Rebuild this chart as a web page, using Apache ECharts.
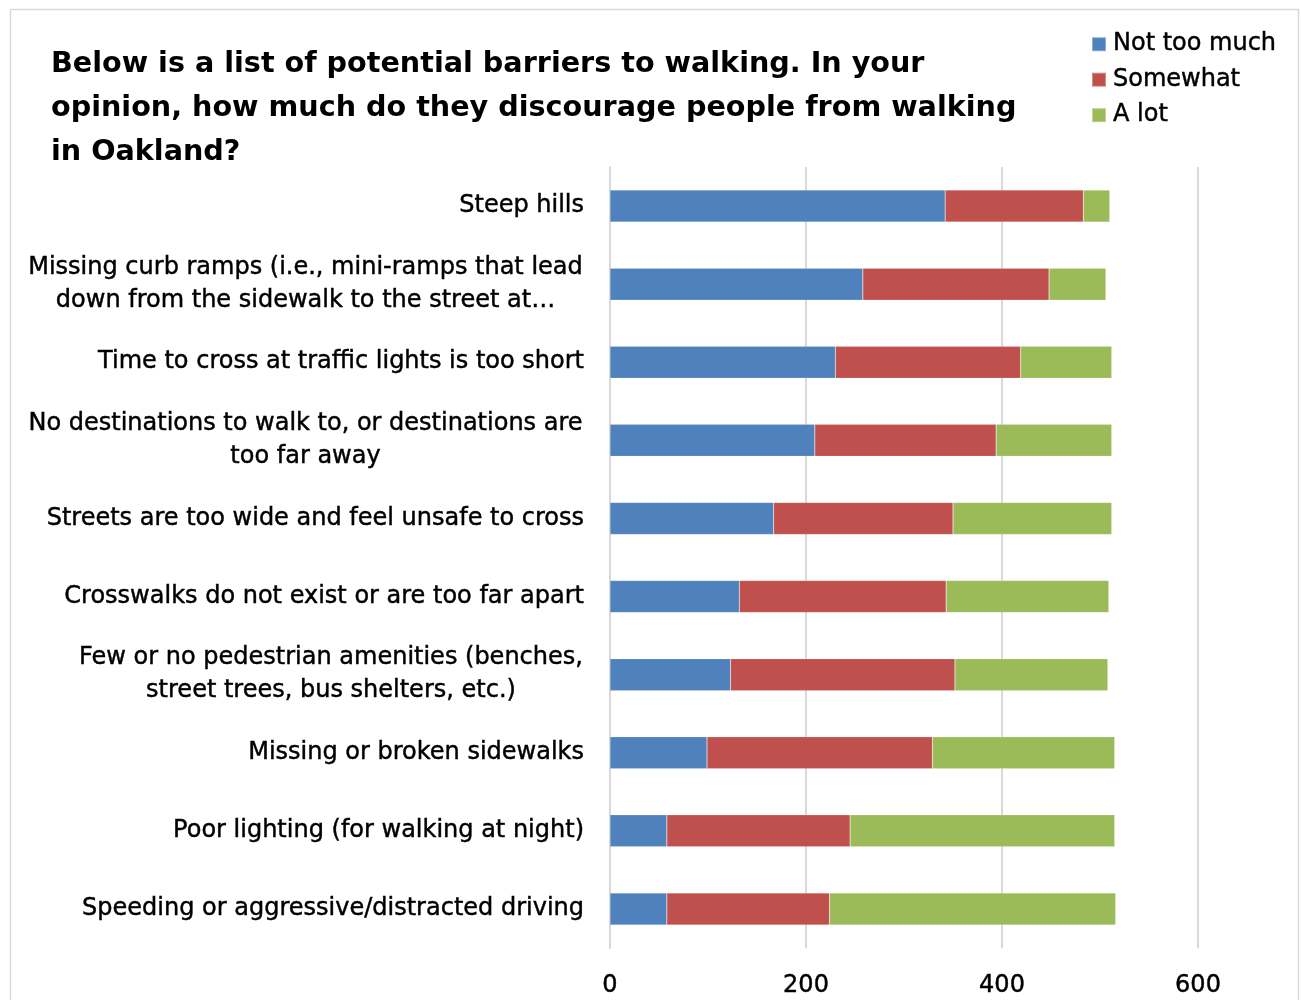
<!DOCTYPE html>
<html><head><meta charset="utf-8">
<script src="https://cdn.jsdelivr.net/npm/echarts@6/dist/echarts.min.js"></script>
<style>html,body{margin:0;padding:0;background:#fff}#c{width:1301px;height:1000px}</style>
</head><body><div id="c"></div>
<script>
const categories = [
  "Steep hills",
  "Missing curb ramps (i.e., mini-ramps that lead\ndown from the sidewalk to the street at…",
  "Time to cross at traffic lights is too short",
  "No destinations to walk to, or destinations are\ntoo far away",
  "Streets are too wide and feel unsafe to cross",
  "Crosswalks do not exist or are too far apart",
  "Few or no pedestrian amenities (benches,\nstreet trees, bus shelters, etc.)",
  "Missing or broken sidewalks",
  "Poor lighting (for walking at night)",
  "Speeding or aggressive/distracted driving"
];
const notTooMuch = [342, 258, 230, 209, 167, 132, 123, 99, 58, 58];
const somewhat   = [141, 190, 189, 185, 183, 211, 229, 230, 187, 166];
const aLot       = [27, 58, 93, 118, 162, 166, 156, 186, 270, 292];
const seriesNames = ["Not too much", "Somewhat", "A lot"];
const xTicks = [0, 200, 400, 600];
const titleText = "Below is a list of potential barriers to walking. In your\nopinion, how much do they discourage people from walking\nin Oakland?";

const FONT = "DejaVu Sans";
const cv = document.createElement('canvas').getContext('2d');
function fit(text, target, weight) {
  cv.font = `${weight} 100px "${FONT}"`;
  return 100 * target / cv.measureText(text).width;
}
const labelSize = Math.min(24, fit("Time to cross at traffic lights is too short", 496, 'normal'));
const titleSize = fit("Below is a list of potential barriers to walking. In your", 874, 'bold');
const legendSize = Math.min(24, fit("Not too much", 168, 'normal'));
const tickSize = Math.min(24, fit("200", 46, 'normal'));
const heavy = {textBorderColor: '#000', textBorderWidth: 0.45};

cv.font = `normal ${labelSize}px "${FONT}"`;
const rich = {};
categories.forEach((c, i) => {
  const lines = c.split('\n');
  const w = Math.max(...lines.map(l => cv.measureText(l).width));
  rich['l' + i] = Object.assign({width: Math.ceil(w) + 2, align: 'center', fontSize: labelSize, fontFamily: FONT, color: '#000', lineHeight: 33}, heavy);
});

const chart = echarts.init(document.getElementById('c'));
const colors = ['#4f81bd', '#c0504d', '#9bbb59'];
chart.setOption({
  animation: false,
  textStyle: {fontFamily: FONT},
  title: {
    text: titleText, left: 46, top: 38,
    textStyle: {fontFamily: FONT, fontSize: titleSize, fontWeight: 'bold', lineHeight: 44, color: '#000'}
  },
  legend: {
    orient: 'vertical', left: 1086, top: 27, itemWidth: 14, itemHeight: 14, itemGap: 11,
    data: seriesNames, icon: 'rect',
    textStyle: Object.assign({fontFamily: FONT, fontSize: legendSize, color: '#000', lineHeight: 24, padding: [0, 0, 0, 2]}, heavy)
  },
  graphic: [{type: 'rect', shape: {x: 10.5, y: 9.5, width: 1288, height: 1010}, style: {fill: 'none', stroke: '#d9d9d9', lineWidth: 1.5}, z: -10}],
  grid: {left: 610, right: 103, top: 167, bottom: 52, containLabel: false},
  xAxis: {
    type: 'value', min: 0, max: 600, interval: 200,
    axisLine: {show: false}, axisTick: {show: false},
    splitLine: {lineStyle: {color: '#d9d9d9', width: 2}},
    axisLabel: Object.assign({margin: 26, fontFamily: FONT, fontSize: tickSize, color: '#000',
      formatter: v => xTicks.includes(v) ? String(v) : ''}, heavy)
  },
  yAxis: {
    type: 'category', data: categories, inverse: true,
    axisLine: {show: true, lineStyle: {color: '#d9d9d9', width: 2}}, axisTick: {show: false},
    axisLabel: Object.assign({
      margin: 26, color: '#000', fontFamily: FONT, fontSize: labelSize, lineHeight: 33, align: 'right',
      formatter: (v, i) => v.includes('\n') ? v.split('\n').map(l => `{l${i}|${l}}`).join('\n') : v,
      rich: rich
    }, heavy)
  },
  series: seriesNames.map((n, k) => ({
    name: n, type: 'bar', stack: 'total', barWidth: '41%',
    itemStyle: {color: colors[k], borderColor: 'rgba(255,255,255,0.35)', borderWidth: 0.5},
    data: [notTooMuch, somewhat, aLot][k]
  }))
});
</script></body></html>
